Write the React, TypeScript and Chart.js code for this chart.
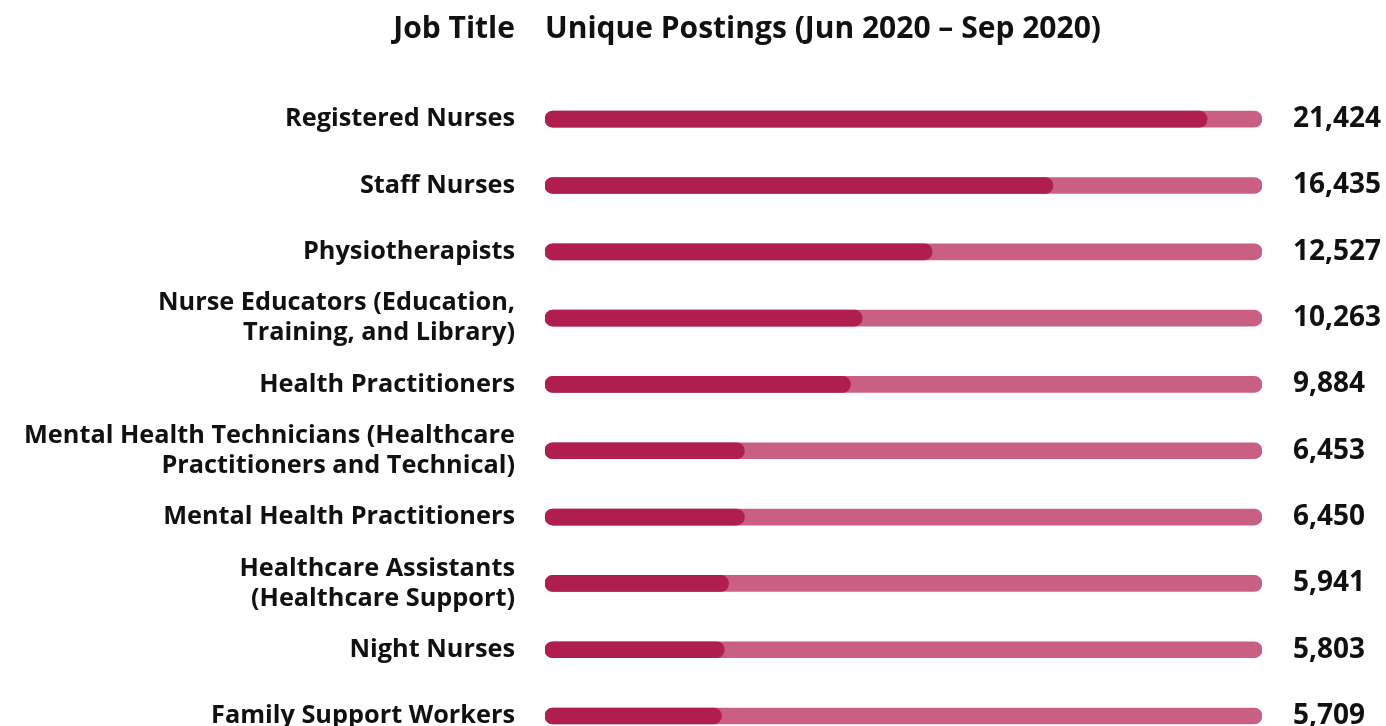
import React, { useEffect, useRef } from "react";
import { Chart, registerables } from "chart.js";

Chart.register(...registerables);

const jobTitles: (string | string[])[] = [
  "Registered Nurses",
  "Staff Nurses",
  "Physiotherapists",
  ["Nurse Educators (Education,", "Training, and Library)"],
  "Health Practitioners",
  ["Mental Health Technicians (Healthcare", "Practitioners and Technical)"],
  "Mental Health Practitioners",
  ["Healthcare Assistants", "(Healthcare Support)"],
  "Night Nurses",
  "Family Support Workers",
];

const uniquePostings: number[] = [21424, 16435, 12527, 10263, 9884, 6453, 6450, 5941, 5803, 5709];

const axisMax = 23200;
const headerLeft = "Job Title";
const headerRight = "Unique Postings (Jun 2020 \u2013 Sep 2020)";

const FONT = "'Open Sans', 'Noto Sans', sans-serif";
const TEXT_COLOR = "#111111";
const FILL_COLOR = "#AF1E4E";
const TRACK_COLOR = "#C96083";

const valueLabels = uniquePostings.map((v) => v.toLocaleString("en-US"));

const headerPlugin = {
  id: "headerPlugin",
  afterDraw(chart: any) {
    const ctx = chart.ctx;
    const left = chart.chartArea.left;
    ctx.save();
    ctx.fillStyle = TEXT_COLOR;
    ctx.font = `bold 30px ${FONT}`;
    ctx.textBaseline = "middle";
    ctx.textAlign = "right";
    ctx.fillText(headerLeft, left - 30, 29);
    ctx.textAlign = "left";
    ctx.fillText(headerRight, left, 29);
    ctx.restore();
  },
};

export default function App() {
  const canvasRef = useRef<HTMLCanvasElement | null>(null);

  useEffect(() => {
    if (!canvasRef.current) return;
    const chart = new Chart(canvasRef.current, {
      type: "bar",
      data: {
        labels: jobTitles as any,
        datasets: [
          {
            label: "Unique Postings",
            data: uniquePostings,
            backgroundColor: FILL_COLOR,
            barThickness: 16,
            borderRadius: 8,
            borderSkipped: false,
            grouped: false,
            order: 0,
          } as any,
          {
            label: "Track",
            data: uniquePostings.map(() => axisMax),
            backgroundColor: TRACK_COLOR,
            barThickness: 16,
            borderRadius: 8,
            borderSkipped: false,
            grouped: false,
            order: 1,
          } as any,
        ],
      },
      options: {
        indexAxis: "y",
        animation: false,
        responsive: false,
        maintainAspectRatio: false,
        layout: { padding: { top: 86, bottom: 10, left: 0, right: 0 } },
        plugins: {
          legend: { display: false },
          tooltip: { enabled: false },
          title: { display: false },
        },
        scales: {
          x: {
            type: "linear",
            display: false,
            min: 0,
            max: axisMax,
          },
          y: {
            type: "category",
            position: "left",
            offset: true,
            grid: { display: false, drawTicks: false, tickLength: 0 },
            border: { display: false },
            ticks: {
              padding: 30,
              color: TEXT_COLOR,
              autoSkip: false,
              font: { family: FONT, size: 25.3, weight: "bold", lineHeight: 1.19 },
            },
            afterFit(scale: any) {
              scale.width = 545;
            },
          },
          y2: {
            type: "category",
            position: "right",
            labels: valueLabels,
            offset: true,
            grid: { display: false, drawTicks: false, tickLength: 0 },
            border: { display: false },
            ticks: {
              padding: 31,
              color: TEXT_COLOR,
              autoSkip: false,
              font: { family: FONT, size: 28, weight: "bold" },
            },
            afterFit(scale: any) {
              scale.width = 124;
            },
          },
        },
      } as any,
      plugins: [headerPlugin],
    });
    return () => chart.destroy();
  }, []);

  return (
    <div style={{ position: "fixed", top: 0, left: 0, width: 1386, height: 797, background: "#ffffff" }}>
      <canvas ref={canvasRef} width={1386} height={797} />
    </div>
  );
}
